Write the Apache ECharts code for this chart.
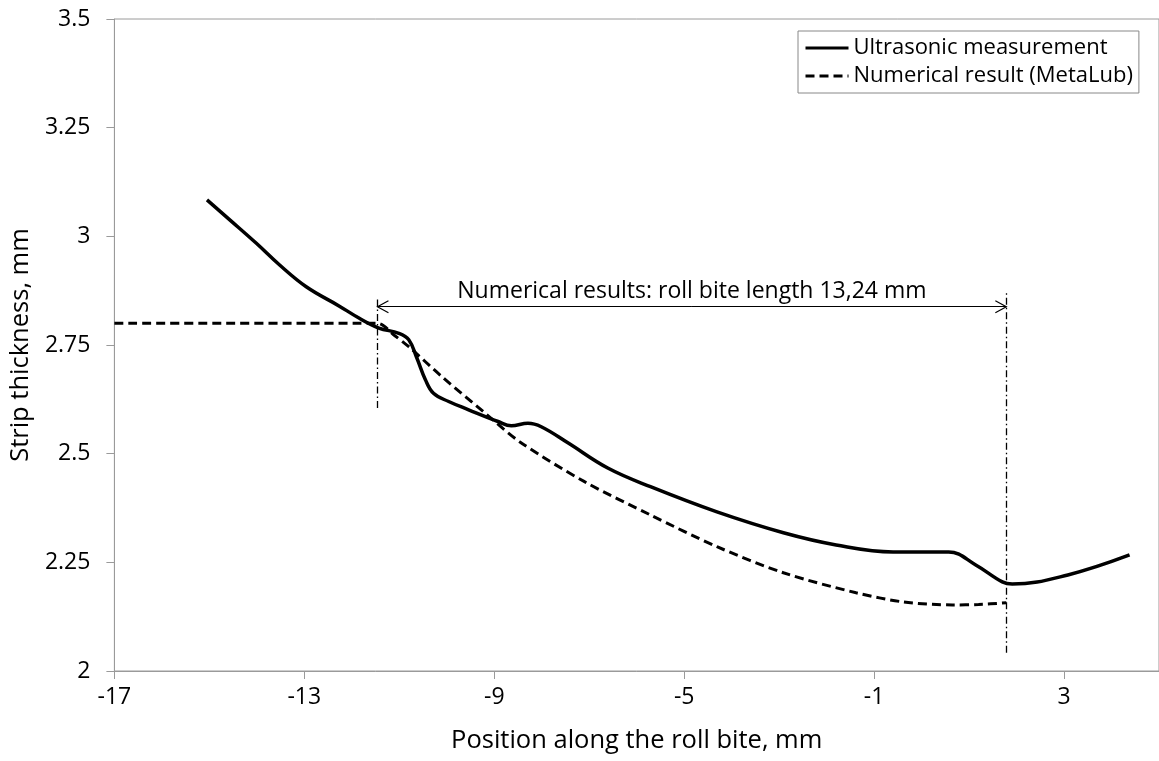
<!DOCTYPE html>
<html>
<head>
<meta charset="utf-8">
<script src="https://cdn.jsdelivr.net/npm/echarts@6/dist/echarts.min.js"></script>
<style>
html, body { margin: 0; padding: 0; background: #fff; }
#chart { width: 1159px; height: 761px; }
</style>
</head>
<body>
<div id="chart"></div>
<script>
// Ultrasonic measurement (solid)
const measX = [-15.05, -14.57, -14.01, -13.52, -12.96, -12.27, -11.85, -11.43, -11.01, -10.80, -10.63, -10.45, -10.28, -9.96, -9.54, -8.92, -8.64, -8.29, -8.01, -7.45, -6.61, -5.71, -4.31, -2.91, -1.80, -0.60, 0.57, 1.14, 1.70, 1.91, 3.08, 4.38];
const measY = [3.084, 3.038, 2.984, 2.934, 2.884, 2.840, 2.812, 2.789, 2.777, 2.762, 2.720, 2.670, 2.639, 2.620, 2.601, 2.574, 2.564, 2.570, 2.562, 2.525, 2.467, 2.424, 2.366, 2.318, 2.290, 2.274, 2.274, 2.244, 2.205, 2.200, 2.221, 2.267];

// Numerical result (MetaLub) (dashed)
const numX = [-17, -11.46, -11.1, -10.8, -10.1, -9.19, -8.46, -7.09, -5.71, -4.31, -2.91, -1.38, -0.39, 0.65, 1.2, 1.785];
const numY = [2.80, 2.80, 2.772, 2.746, 2.677, 2.593, 2.527, 2.435, 2.359, 2.286, 2.226, 2.180, 2.159, 2.152, 2.153, 2.157];

// roll bite annotation
const biteStart = -11.46;
const biteEnd = 1.785;
const arrowY = 2.838;
const leftMarkY = [2.605, 2.858];
const rightMarkY = [2.042, 2.870];
const biteText = 'Numerical results: roll bite length 13,24 mm';

const FONT = 'Open Sans';

var myChart = echarts.init(document.getElementById('chart'));

var option = {
    animation: false,
    grid: {
        left: 114,
        top: 19,
        width: 1050,
        height: 652,
        show: true,
        borderColor: '#9a9a9a',
        borderWidth: 1
    },
    legend: {
        left: 798,
        top: 31,
        orient: 'vertical',
        itemWidth: 43,
        itemHeight: 12,
        itemGap: 6,
        padding: [6, 6, 6, 6],
        borderColor: '#888',
        borderWidth: 1,
        itemStyle: { opacity: 0 },
        lineStyle: { width: 3 },
        textStyle: { fontFamily: FONT, fontSize: 22, color: '#000' },
        data: ['Ultrasonic measurement', 'Numerical result (MetaLub)']
    },
    xAxis: {
        type: 'value',
        min: -17,
        max: 5,
        interval: 4,
        name: 'Position along the roll bite, mm',
        nameLocation: 'middle',
        nameGap: 57,
        nameTextStyle: { fontFamily: FONT, fontSize: 25.5, color: '#000' },
        axisLine: { onZero: false, lineStyle: { color: '#9a9a9a' } },
        axisTick: { length: 8, lineStyle: { color: '#9a9a9a' } },
        axisLabel: { fontFamily: FONT, fontSize: 23, color: '#000', margin: 15, showMaxLabel: false },
        splitLine: { show: false }
    },
    yAxis: {
        type: 'value',
        min: 2,
        max: 3.5,
        interval: 0.25,
        name: 'Strip thickness, mm',
        nameLocation: 'middle',
        nameGap: 74,
        nameTextStyle: { fontFamily: FONT, fontSize: 25.5, color: '#000' },
        axisLine: { show: true, onZero: false, lineStyle: { color: '#9a9a9a' } },
        axisTick: { show: true, length: 8, lineStyle: { color: '#9a9a9a' } },
        axisLabel: { fontFamily: FONT, fontSize: 23, color: '#000', margin: 24 },
        splitLine: { show: false }
    },
    series: [
        {
            name: 'Ultrasonic measurement',
            type: 'line',
            data: measX.map((x, i) => [x, measY[i]]),
            symbol: 'none',
            smooth: 0.4,
            lineStyle: { color: '#000', width: 3.5 },
            itemStyle: { color: '#000' }
        },
        {
            name: 'Numerical result (MetaLub)',
            type: 'line',
            data: numX.map((x, i) => [x, numY[i]]),
            symbol: 'none',
            smooth: 0.3,
            lineStyle: { color: '#000', width: 3, type: [9, 5] },
            itemStyle: { color: '#000' },
            markLine: {
                silent: true,
                symbol: 'none',
                animation: false,
                lineStyle: { color: '#000', width: 1.3, type: [7, 3, 1.5, 3] },
                label: { show: false },
                data: [
                    [{ coord: [biteStart, leftMarkY[0]] }, { coord: [biteStart, leftMarkY[1]] }],
                    [{ coord: [biteEnd, rightMarkY[0]] }, { coord: [biteEnd, rightMarkY[1]] }],
                    [
                        {
                            coord: [biteStart, arrowY],
                            lineStyle: { type: 'solid', width: 1, color: '#000' },
                            label: {
                                show: true,
                                position: 'insideMiddleTop',
                                distance: 4,
                                formatter: biteText,
                                fontFamily: FONT,
                                fontSize: 23,
                                color: '#000'
                            }
                        },
                        { coord: [biteEnd, arrowY] }
                    ]
                ]
            }
        }
    ]
};

myChart.setOption(option);

// 开口箭头（两端）
const pL = myChart.convertToPixel({ gridIndex: 0 }, [biteStart, arrowY]);
const pR = myChart.convertToPixel({ gridIndex: 0 }, [biteEnd, arrowY]);
const ah = 11, aw = 6;
myChart.setOption({
    graphic: [
        {
            type: 'polyline',
            shape: { points: [[pL[0] + ah, pL[1] - aw], [pL[0], pL[1]], [pL[0] + ah, pL[1] + aw]] },
            style: { stroke: '#000', lineWidth: 1.2, fill: null },
            silent: true,
            z: 10
        },
        {
            type: 'polyline',
            shape: { points: [[pR[0] - ah, pR[1] - aw], [pR[0], pR[1]], [pR[0] - ah, pR[1] + aw]] },
            style: { stroke: '#000', lineWidth: 1.2, fill: null },
            silent: true,
            z: 10
        }
    ]
});
</script>
</body>
</html>
